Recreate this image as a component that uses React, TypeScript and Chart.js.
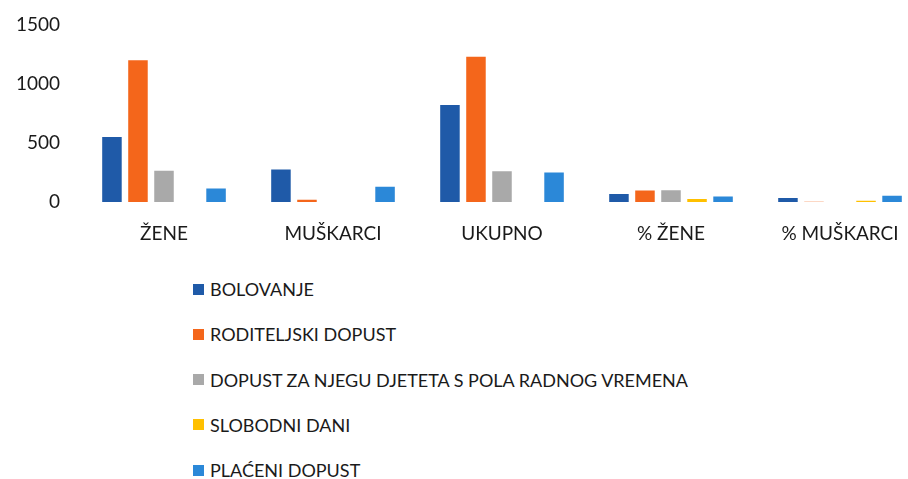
import React, { useEffect, useRef } from "react";
import { Chart, registerables } from "chart.js";

Chart.register(...registerables);

const categories = ["ŽENE", "MUŠKARCI", "UKUPNO", "% ŽENE", "% MUŠKARCI"];
const seriesNames = [
  "BOLOVANJE",
  "RODITELJSKI DOPUST",
  "DOPUST ZA NJEGU DJETETA S POLA RADNOG VREMENA",
  "SLOBODNI DANI",
  "PLAĆENI DOPUST",
];
const bolovanje = [550, 275, 823, 67, 33];
const roditeljski = [1202, 20, 1230, 98, 2];
const njega = [264, 0, 260, 100, 0];
const slobodni = [null, null, null, 25, 10];
const placeni = [115, 129, 250, 47, 53];
const seriesValues = [bolovanje, roditeljski, njega, slobodni, placeni];
const colors = ["#1f5aa8", "#f4661b", "#a9a9a9", "#ffc000", "#2b88d8"];
const yTicks = [0, 500, 1000, 1500];

const FONT = "Lato, 'Open Sans', sans-serif";

export default function App() {
  const ref = useRef<HTMLCanvasElement | null>(null);

  useEffect(() => {
    if (!ref.current) return;
    const chart = new Chart(ref.current, {
      type: "bar",
      data: {
        labels: categories,
        datasets: seriesNames.map((name, i) => ({
          label: name,
          data: seriesValues[i] as any,
          backgroundColor: colors[i],
          categoryPercentage: 0.77,
          barPercentage: 0.75,
        })),
      },
      options: {
        responsive: false,
        animation: false,
        devicePixelRatio: 1,
        layout: { padding: { left: 4.5, top: 25, right: 10.5, bottom: 3 } },
        plugins: { legend: { display: false }, tooltip: { enabled: false } },
        scales: {
          x: {
            afterFit: (s: any) => {
              s.height = 45;
              s.paddingLeft = 0;
              s.paddingRight = 0;
            },
            grid: { display: false, drawTicks: false },
            border: { display: false },
            ticks: {
              padding: 20,
              color: "#1a1a1a",
              font: { family: FONT, size: 19 },
              maxRotation: 0,
              autoSkip: false,
            },
          },
          y: {
            min: 0,
            max: 1500,
            afterFit: (s: any) => {
              s.width = 75;
              s.paddingTop = 0;
              s.paddingBottom = 0;
            },
            afterBuildTicks: (s: any) => {
              s.ticks = yTicks.map((v) => ({ value: v }));
            },
            grid: { display: false, drawTicks: false },
            border: { display: false },
            ticks: {
              padding: 19.5,
              color: "#1a1a1a",
              font: { family: FONT, size: 19 },
              callback: (v: any) => String(v),
            },
          },
        },
      },
    });
    return () => chart.destroy();
  }, []);

  return (
    <div
      style={{
        position: "fixed",
        left: 0,
        top: 0,
        width: 908,
        height: 479,
        overflow: "hidden",
        background: "#fff",
      }}
    >
      <canvas
        ref={ref}
        width={935}
        height={250}
        style={{ position: "absolute", left: 0, top: 0, width: 935, height: 250 }}
      />
      {seriesNames.map((name, i) => (
        <div
          key={name}
          style={{
            position: "absolute",
            left: 193,
            top: 289 + i * 45.3 - 12,
            height: 24,
            display: "flex",
            alignItems: "center",
            fontFamily: FONT,
            fontSize: 18,
            color: "#1a1a1a",
            whiteSpace: "nowrap",
          }}
        >
          <span
            style={{
              display: "inline-block",
              width: 11,
              height: 11,
              background: colors[i],
              marginRight: 6,
            }}
          />
          <span>{name}</span>
        </div>
      ))}
    </div>
  );
}
